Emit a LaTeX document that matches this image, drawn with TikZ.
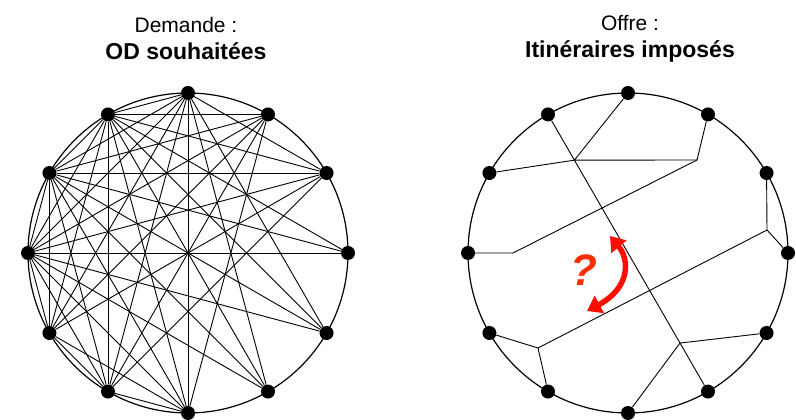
\documentclass[tikz,border=0pt]{standalone}
\usepackage{fontspec}
\setmainfont{Liberation Sans}
\usetikzlibrary{calc,arrows.meta}

\tikzset{
  dot/.style = {circle, fill, inner sep=0pt, minimum size=14pt},
  link/.style = {line width=0.9pt},
  rim/.style = {line width=1.2pt},
  swap/.style = {line width=5.5pt, red!90!orange, {Triangle[length=14pt,width=19pt]}-{Triangle[length=14pt,width=19pt]}},
  title/.style = {align=center, font=\fontsize{21}{27}\selectfont}
}

\begin{document}
\begin{tikzpicture}[x=1pt,y=1pt]
\useasboundingbox (0,0) rectangle (796,420);

% titres
\node[title] (tdem) at (186,381) {Demande :\\{\fontsize{23}{27}\selectfont\bfseries OD souhaitées}};
\node[title] (toff) at (630,381) {Offre :\\{\fontsize{23}{27}\selectfont\bfseries Itinéraires imposés}};

% demande : toutes les OD
\draw[rim] (188,167) circle (160);
\foreach \a in {0,30,...,330}
  \path (188,167) ++(\a:160) node[dot] (d\a) {};
\foreach \u/\v in {90/120,90/150,90/180,90/210,90/240,90/270,
                   120/150,120/180,120/210,120/240,120/270,
                   150/180,150/210,150/240,150/270,
                   180/210,180/240,180/270,
                   210/240,210/270,240/270,
                   0/180,0/150,0/120,
                   30/180,30/150,30/120,30/210,30/240,30/90,
                   60/180,60/150,60/120,60/210,60/240,60/270,
                   330/180,330/150,330/120,330/90,
                   300/180,300/150,300/120,300/90}
  \draw[link] (d\u) -- (d\v);

% offre : itineraires
\draw[rim] (628,167) circle (160);
\foreach \a in {0,30,...,330}
  \path (628,167) ++(\a:160) node[dot] (o\a) {};
\coordinate (ja) at ($(o120)!0.165!(o300)$);
\coordinate (jf) at ($(o120)!0.825!(o300)$);
\coordinate (jb) at (697,260);
\coordinate (jc) at (513,167);
\coordinate (jd) at (767,190);
\coordinate (je) at (538,72);
\draw[link] (o120) -- (o300);
\draw[link] (o90) -- (ja) -- (jb) -- (o60);
\draw[link] (o150) -- (ja);
\draw[link] (jb) -- (jc) -- (o180);
\draw[link] (o30) -- (jd) -- (o0);
\draw[link] (jd) -- (je) -- (o210);
\draw[link] (je) -- (o240);
\draw[link] (o330) -- (jf) -- (o270);

% correspondance ?
\node[text=red!65!orange, font=\fontsize{44}{44}\selectfont\bfseries\itshape] (qm) at (584,150) {?};
\draw[swap] (587,109) .. controls (630,132) and (630,160) .. (610,184);
\end{tikzpicture}
\end{document}
